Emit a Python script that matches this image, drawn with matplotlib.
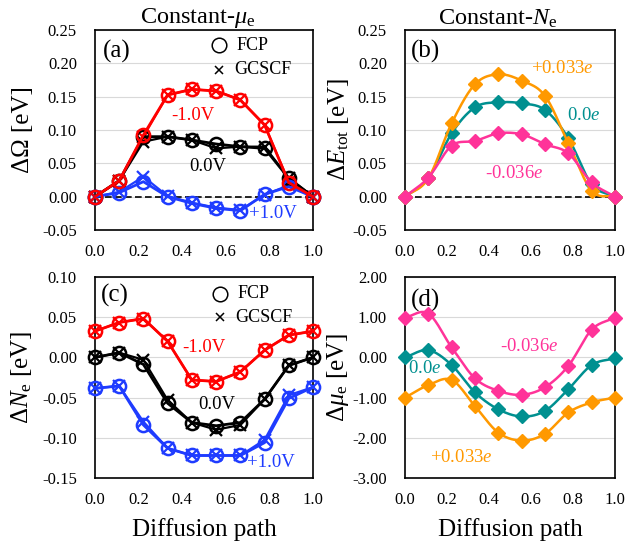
import numpy as np
import matplotlib
matplotlib.use("Agg")
import matplotlib.pyplot as plt

plt.rcParams['font.family'] = ['Liberation Serif', 'DejaVu Serif']
plt.rcParams['mathtext.fontset'] = 'custom'
plt.rcParams['mathtext.rm'] = 'Liberation Serif'
plt.rcParams['mathtext.it'] = 'Liberation Serif:italic'

# ── Données ──────────────────────────────────────────────────────────────────
path = [0.0, 0.111, 0.222, 0.333, 0.444, 0.556, 0.667, 0.778, 0.889, 1.0]

# (a) ΔΩ, constant-μe
omega_fcp_m1 = [0.0, 0.024, 0.0925, 0.1525, 0.161, 0.1585, 0.145, 0.1075, 0.021, 0.0]
omega_gc_m1 = [0.0, 0.024, 0.090, 0.1525, 0.161, 0.1585, 0.145, 0.1075, 0.022, 0.0]
omega_fcp_0 = [0.0, 0.024, 0.090, 0.090, 0.085, 0.079, 0.075, 0.0725, 0.0275, 0.0]
omega_gc_0 = [0.0, 0.024, 0.0825, 0.090, 0.085, 0.0725, 0.075, 0.075, 0.028, 0.0]
omega_fcp_p1 = [0.0, 0.006, 0.0225, 0.0, -0.010, -0.0175, -0.021, 0.0035, 0.015, 0.0]
omega_gc_p1 = [0.0, 0.007, 0.030, 0.001, -0.009, -0.0165, -0.020, 0.003, 0.017, 0.0]

# (b) ΔE_tot, constant-Ne
etot_p033 = [0.0, 0.0275, 0.110, 0.1685, 0.1835, 0.174, 0.151, 0.080, 0.009, 0.0]
etot_0 = [0.0, 0.0275, 0.095, 0.134, 0.1415, 0.140, 0.130, 0.0875, 0.0185, 0.0]
etot_m036 = [0.0, 0.0285, 0.0765, 0.0835, 0.095, 0.0935, 0.0785, 0.065, 0.0215, 0.0]

# (c) ΔNe, constant-μe
ne_fcp_m1 = [0.0326, 0.0434, 0.0483, 0.020, -0.028, -0.030, -0.018, 0.009, 0.0277, 0.0326]
ne_gc_m1 = [0.0326, 0.0434, 0.0483, 0.020, -0.028, -0.030, -0.018, 0.009, 0.0277, 0.0326]
ne_fcp_0 = [0.0, 0.0058, -0.0087, -0.057, -0.081, -0.085, -0.081, -0.052, -0.010, 0.0]
ne_gc_0 = [0.0, 0.0058, -0.003, -0.053, -0.081, -0.090, -0.084, -0.052, -0.010, 0.0]
ne_fcp_p1 = [-0.0385, -0.0355, -0.084, -0.113, -0.122, -0.122, -0.122, -0.106, -0.051, -0.037]
ne_gc_p1 = [-0.0385, -0.0355, -0.080, -0.113, -0.122, -0.122, -0.122, -0.1025, -0.047, -0.037]

# (d) Δμe, constant-Ne
mu_m036 = [0.99, 1.09, 0.25, -0.52, -0.83, -0.93, -0.74, -0.21, 0.69, 0.99]
mu_0 = [0.0, 0.18, -0.19, -0.87, -1.29, -1.47, -1.33, -0.79, -0.19, -0.02]
mu_p033 = [-1.0, -0.69, -0.56, -1.21, -1.87, -2.07, -1.90, -1.37, -1.12, -1.0]

RED, BLACK, BLUE = '#ff0000', '#000000', '#1f3cff'
ORANGE, TEAL, PINK = '#ff9900', '#009090', '#ff3399'


def smooth(x, y, n=24):
    """Courbe lissée type Excel (Catmull-Rom) pour le tracé seulement."""
    x, y = np.asarray(x, float), np.asarray(y, float)
    px = np.concatenate([[2 * x[0] - x[1]], x, [2 * x[-1] - x[-2]]])
    py = np.concatenate([[2 * y[0] - y[1]], y, [2 * y[-1] - y[-2]]])
    t = np.linspace(0, 1, n)[:-1]
    xs, ys = [], []
    for i in range(1, len(px) - 2):
        for arr, out in ((px, xs), (py, ys)):
            p0, p1, p2, p3 = arr[i - 1:i + 3]
            out.extend(0.5 * (2 * p1 + (-p0 + p2) * t + (2 * p0 - 5 * p1 + 4 * p2 - p3) * t ** 2
                              + (-p0 + 3 * p1 - 3 * p2 + p3) * t ** 3))
    xs.append(x[-1])
    ys.append(y[-1])
    return xs, ys


def style_axes(ax, ylim, yticks, fmt):
    ax.set_xlim(0, 1.0)
    ax.set_ylim(*ylim)
    ax.set_xticks(np.arange(0, 1.01, 0.2))
    ax.set_xticklabels([f'{v:.1f}' for v in np.arange(0, 1.01, 0.2)])
    ax.set_yticks(yticks)
    ax.set_yticklabels([fmt.format(v) for v in yticks])
    ax.tick_params(length=0, labelsize=12)
    ax.tick_params(axis='x', pad=10)
    ax.tick_params(axis='y', pad=13)
    ax.grid(axis='y', color='#d9d9d9', linewidth=0.8)
    ax.set_axisbelow(True)
    for s in ax.spines.values():
        s.set_linewidth(1.2)


def plot_fcp(ax, y_fcp, y_gc, color):
    ax.plot(path, y_gc, color=color, lw=1.6, marker='x', ms=8, mew=1.6, clip_on=False, zorder=3)
    ax.plot(path, y_fcp, color=color, lw=2.0, marker='o', ms=9.5, mew=1.8,
            mfc='none', clip_on=False, zorder=4)


def plot_diamond(ax, y, color, z):
    xs, ys = smooth(path, y)
    ax.plot(xs, ys, color=color, lw=1.8, zorder=z)
    ax.plot(path, y, ls='none', marker='D', ms=7, color=color, clip_on=False, zorder=z)


fig = plt.figure(figsize=(6.26, 5.42), dpi=100)
W, H = 626, 542


def add_ax(l, t, r, b):
    return fig.add_axes([l / W, 1 - b / H, (r - l) / W, (b - t) / H])


ax_a = add_ax(95, 30, 313, 230)
ax_b = add_ax(405, 30, 615, 230)
ax_c = add_ax(95, 277, 313, 478)
ax_d = add_ax(405, 277, 615, 478)

# ── (a) ──
ax = ax_a
style_axes(ax, (-0.05, 0.25), np.arange(-0.05, 0.251, 0.05), '{:.2f}')
ax.axhline(0, color='black', lw=1.2, ls=(0, (4, 2)), zorder=2)
plot_fcp(ax, omega_fcp_0, omega_gc_0, BLACK)
plot_fcp(ax, omega_fcp_p1, omega_gc_p1, BLUE)
plot_fcp(ax, omega_fcp_m1, omega_gc_m1, RED)
ax.text(0.45, 0.1225, '-1.0V', color=RED, fontsize=13.5, ha='center', va='center')
ax.text(0.515, 0.045, '0.0V', color=BLACK, fontsize=13.5, ha='center', va='center')
ax.text(0.815, -0.025, '+1.0V', color=BLUE, fontsize=13.5, ha='center', va='center')
ax.text(0.1, 0.2175, '(a)', fontsize=18, ha='center', va='center')
ax.plot([0.57], [0.2275], marker='o', ms=10.5, mfc='none', mec='black', mew=1.1, ls='none')
ax.text(0.65, 0.2275, 'FCP', fontsize=13, ha='left', va='center')
ax.plot([0.57], [0.19], marker='x', ms=6, color='black', mew=1.1, ls='none')
ax.text(0.64, 0.19, 'GCSCF', fontsize=13, ha='left', va='center')
ax.set_ylabel('ΔΩ [eV]', fontsize=18, labelpad=6)
ax.set_title('Constant-$\\mu_{\\rm e}$', fontsize=17.5, pad=4, x=0.47)

# ── (b) ──
ax = ax_b
style_axes(ax, (-0.05, 0.25), np.arange(-0.05, 0.251, 0.05), '{:.2f}')
ax.axhline(0, color='black', lw=1.2, ls=(0, (4, 2)), zorder=2)
plot_diamond(ax, etot_0, TEAL, 3)
plot_diamond(ax, etot_p033, ORANGE, 4)
plot_diamond(ax, etot_m036, PINK, 5)
ax.text(0.75, 0.1925, '+0.033$e$', color=ORANGE, fontsize=13.5, ha='center', va='center')
ax.text(0.85, 0.1225, '0.0$e$', color=TEAL, fontsize=13.5, ha='center', va='center')
ax.text(0.52, 0.035, '-0.036$e$', color=PINK, fontsize=13.5, ha='center', va='center')
ax.text(0.1, 0.2175, '(b)', fontsize=18, ha='center', va='center')
ax.set_ylabel('Δ$E_{\\rm tot}$ [eV]', fontsize=18, labelpad=1)
ax.set_title('Constant-$N_{\\rm e}$', fontsize=17.5, pad=4, x=0.44)

# ── (c) ──
ax = ax_c
style_axes(ax, (-0.15, 0.10), np.arange(-0.15, 0.101, 0.05), '{:.2f}')
plot_fcp(ax, ne_fcp_0, ne_gc_0, BLACK)
plot_fcp(ax, ne_fcp_p1, ne_gc_p1, BLUE)
plot_fcp(ax, ne_fcp_m1, ne_gc_m1, RED)
ax.text(0.5, 0.0124, '-1.0V', color=RED, fontsize=13.5, ha='center', va='center')
ax.text(0.56, -0.059, '0.0V', color=BLACK, fontsize=13.5, ha='center', va='center')
ax.text(0.807, -0.131, '+1.0V', color=BLUE, fontsize=13.5, ha='center', va='center')
ax.text(0.09, 0.077, '(c)', fontsize=18, ha='center', va='center')
ax.plot([0.575], [0.079], marker='o', ms=10.5, mfc='none', mec='black', mew=1.1, ls='none')
ax.text(0.655, 0.079, 'FCP', fontsize=13, ha='left', va='center')
ax.plot([0.575], [0.05], marker='x', ms=6, color='black', mew=1.1, ls='none')
ax.text(0.645, 0.05, 'GCSCF', fontsize=13, ha='left', va='center')
ax.set_ylabel('Δ$N_{\\rm e}$ [eV]', fontsize=18, labelpad=6)
ax.set_xlabel('Diffusion path', fontsize=18, labelpad=7)

# ── (d) ──
ax = ax_d
style_axes(ax, (-3.0, 2.0), np.arange(-3.0, 2.01, 1.0), '{:.2f}')
plot_diamond(ax, mu_p033, ORANGE, 3)
plot_diamond(ax, mu_0, TEAL, 4)
plot_diamond(ax, mu_m036, PINK, 5)
ax.text(0.59, 0.28, '-0.036$e$', color=PINK, fontsize=13.5, ha='center', va='center')
ax.text(0.094, -0.27, '0.0$e$', color=TEAL, fontsize=13.5, ha='center', va='center')
ax.text(0.27, -2.5, '+0.033$e$', color=ORANGE, fontsize=13.5, ha='center', va='center')
ax.text(0.1, 1.42, '(d)', fontsize=18, ha='center', va='center')
ax.set_ylabel('Δ$\\mu_{\\rm e}$ [eV]', fontsize=18, labelpad=1)
ax.set_xlabel('Diffusion path', fontsize=18, labelpad=7)

fig.savefig('out.png', dpi=100)
